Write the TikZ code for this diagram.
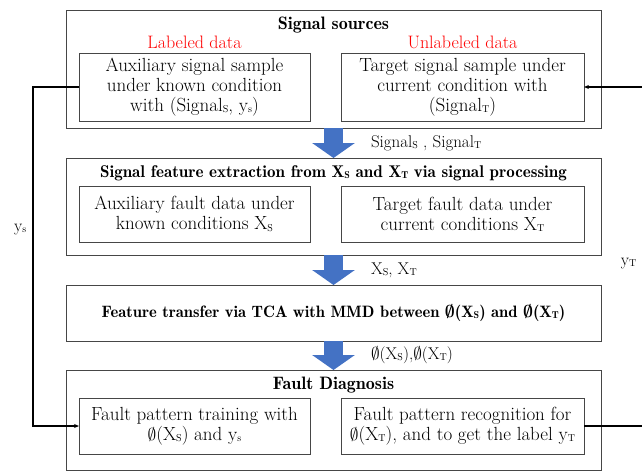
\documentclass[tikz,border=0pt]{standalone}
\usetikzlibrary{arrows.meta, positioning}
\definecolor{flowblue}{RGB}{68,114,196}
\definecolor{boxgray}{RGB}{70,70,70}
\newcommand{\lsub}[1]{\raisebox{-0.15ex}{\fontsize{10}{10}\selectfont #1}}
\newcommand{\bodyfont}{\fontsize{19}{20}\selectfont}
\newcommand{\headfont}{\fontsize{18}{20}\fontseries{b}\selectfont\boldmath}
\newcommand{\longheadfont}{\fontsize{17}{20}\fontseries{b}\selectfont\boldmath}

\begin{document}
\begin{tikzpicture}[x=1pt, y=-1pt,
  stage/.style={rectangle, draw=boxgray, line width=1pt, minimum width=535pt,
                inner sep=0pt, outer sep=0pt},
  inbox/.style={rectangle, draw=boxgray, line width=1pt, minimum height=56pt,
                align=center, font=\bodyfont, inner sep=0pt, outer sep=0pt},
  head/.style={font=\headfont, inner sep=0pt},
  tag/.style={font=\fontsize{18}{20}\selectfont, text=red, inner sep=0pt},
  flowtag/.style={font=\fontsize{17}{20}\selectfont, inner sep=0pt},
  flow/.style={line width=19pt, draw=flowblue, -{Triangle[width=42pt, length=15pt]}},
  feed/.style={line width=1.2pt, -{Stealth[length=5pt, width=4pt]}}
]
\useasboundingbox (0,0) rectangle (642,471);

% the four stages
\node[stage, minimum height=118pt] (src) at (333.5,69) {};
\node[stage, minimum height=97pt, below=30pt of src] (feat) {};
\node[stage, minimum height=56pt, below=30pt of feat,
      font=\fontsize{16.5}{20}\fontseries{b}\selectfont\boldmath] (tca)
  {Feature transfer via TCA with MMD between $\emptyset$(X\lsub{S}) and $\emptyset$(X\lsub{T})};
\node[stage, minimum height=100pt, below=29pt of tca] (diag) {};

% headings
\node[head] (srcT) at ([yshift=-15pt]src.north) {Signal sources};
\node[head, font=\longheadfont] (featT) at ([yshift=-15pt]feat.north)
  {Signal feature extraction from X\lsub{S} and X\lsub{T} via signal processing};
\node[head] (diagT) at ([yshift=-15pt]diag.north) {Fault Diagnosis};

% signal sources
\node[inbox, minimum width=231pt, minimum height=68pt, anchor=north west] (aux)
  at ([shift={(13pt,-43pt)}]src.north west)
  {Auxiliary signal sample\\under known condition\\with (Signal\lsub{S}, y\lsub{s})};
\node[inbox, minimum width=243pt, minimum height=68pt, right=31pt of aux] (tgt)
  {Target signal sample under\\current condition with\\(Signal\lsub{T})};
\node[tag] (lab) at ([yshift=10.5pt]aux.north) {Labeled data};
\node[tag] (unlab) at ([yshift=10.5pt]tgt.north) {Unlabeled data};

% feature extraction
\node[inbox, minimum width=231pt, anchor=north west] (auxfeat)
  at ([shift={(13pt,-28pt)}]feat.north west)
  {Auxiliary fault data under\\known conditions X\lsub{S}};
\node[inbox, minimum width=243pt, right=31pt of auxfeat] (tgtfeat)
  {Target fault data under\\current conditions X\lsub{T}};

% diagnosis
\node[inbox, minimum width=231pt, anchor=north west] (train)
  at ([shift={(13pt,-28pt)}]diag.north west)
  {Fault pattern training with\\$\emptyset$(X\lsub{S}) and y\lsub{s}};
\node[inbox, minimum width=243pt, right=31pt of train] (recog)
  {Fault pattern recognition for\\$\emptyset$(X\lsub{T}), and to get the label y\lsub{T}};

% flow between stages
\draw[flow] (src.south) -- node[flowtag, right=28pt] (sig) {Signal\lsub{S} , Signal\lsub{T}} (feat.north);
\draw[flow] (feat.south) -- node[flowtag, right=28pt] (xst) {X\lsub{S}, X\lsub{T}} (tca.north);
\draw[flow] (tca.south) -- node[flowtag, right=28pt] (phi) {$\emptyset$(X\lsub{S}),$\emptyset$(X\lsub{T})} (diag.north);

% label feedback
\draw[feed] (aux.west) -- ++(-46pt,0) |- node[flowtag, pos=0.21, left=6pt] (ys) {y\lsub{s}} (train.west);
\draw[feed] (recog.east) -- ++(62pt,0) |- node[flowtag, pos=0.24, left=9pt] (yt) {y\lsub{T}} (tgt.east);

\end{tikzpicture}
\end{document}
